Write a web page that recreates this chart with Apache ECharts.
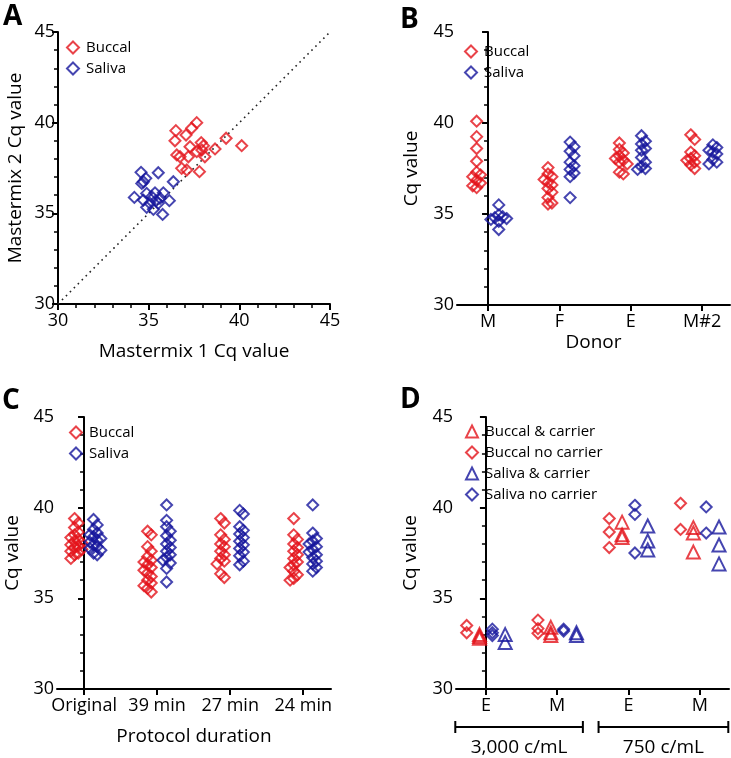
<!DOCTYPE html>
<html>
<head>
<meta charset="utf-8">
<script src="https://cdn.jsdelivr.net/npm/echarts@6/dist/echarts.min.js"></script>
<style>
html,body{margin:0;padding:0;background:#fff;}
#chart{width:731px;height:758px;}
</style>
</head>
<body>
<div id="chart"></div>
<script>
// ---------- DATA ----------
// Panel A: [Mastermix 1 Cq, Mastermix 2 Cq]
const aBuccal = [
  [37.65,40.0],[37.37,39.69],[36.5,39.56],[37.06,39.32],[36.45,39.0],[39.27,39.14],
  [40.13,38.73],[38.66,38.55],[38.02,38.73],[37.9,38.9],[37.28,38.67],[37.65,38.4],
  [38.1,38.12],[36.55,38.22],[36.73,38.12],[37.19,38.12],[36.82,37.48],[37.1,37.39],
  [37.8,37.3],[37.93,38.49]
];
const aSaliva = [
  [34.58,37.26],[35.53,37.24],[36.36,36.74],[34.71,36.74],[34.84,36.93],[34.62,36.65],
  [34.21,35.88],[34.89,36.1],[35.35,36.13],[35.81,36.13],[34.71,35.73],[35.17,35.92],
  [35.63,35.83],[36.14,35.7],[34.89,35.33],[35.26,35.22],[35.53,35.55],[35.77,34.94],
  [35.07,35.55],[35.4,35.7]
];
const identityLine = [[30,30],[45,45]];

// Panel B
const bCategories = ['M','F','E','M#2'];
const bBuccal = [
  [40.1,39.25,38.6,37.9,37.3,37.15,37.05,36.85,36.7,36.55,36.45],
  [37.55,37.2,37.05,36.9,36.75,36.6,36.4,36.2,35.9,35.6,35.55],
  [38.9,38.55,38.35,38.2,38.05,37.95,37.85,37.75,37.3,37.2],
  [39.35,39.1,38.4,38.2,38.05,37.95,37.85,37.7,37.5]
];
const bSaliva = [
  [35.5,34.95,34.85,34.8,34.75,34.7,34.6,34.15],
  [38.95,38.7,38.45,38.2,37.85,37.65,37.45,37.25,37.05,35.9],
  [39.3,39.0,38.85,38.6,38.5,38.1,37.85,37.6,37.5,37.45],
  [38.8,38.65,38.5,38.4,38.3,38.0,37.85,37.75]
];

// Panel C
const cCategories = ['Original','39 min','27 min','24 min'];
const cBuccal = [
  [39.4,39.15,38.9,38.65,38.5,38.35,38.25,38.15,38.05,37.95,37.9,37.8,37.7,37.6,37.5,37.4,37.2],
  [38.7,38.5,37.85,37.6,37.3,37.1,37.0,36.85,36.7,36.55,36.4,36.2,36.0,35.85,35.7,35.55,35.35],
  [39.4,39.15,38.5,38.25,38.0,37.85,37.6,37.4,37.2,37.05,36.9,36.35,36.15],
  [39.4,38.5,38.25,38.0,37.8,37.6,37.4,37.2,37.0,36.85,36.7,36.5,36.3,36.1,36.0]
];
const cSaliva = [
  [39.35,39.05,38.8,38.6,38.5,38.4,38.3,38.2,38.1,37.95,37.85,37.75,37.65,37.5,37.4],
  [40.15,39.3,38.95,38.7,38.45,38.2,38.0,37.8,37.6,37.4,37.25,37.1,36.95,36.65,35.9],
  [39.85,39.65,38.95,38.75,38.55,38.35,38.15,37.95,37.75,37.55,37.35,37.05,36.85],
  [40.15,38.6,38.3,38.15,38.0,37.85,37.7,37.55,37.4,37.25,37.05,36.9,36.7,36.5]
];

// Panel D
const dCategories = ['E','M','E','M'];
const dGroupLabels = ['3,000 c/mL','750 c/mL'];
const dBuccalCarrier = [[33.0,32.9,32.8],[33.4,33.1,32.95],[39.2,38.5,38.35],[38.9,38.6,37.55]];
const dBuccalNo      = [[33.5,33.1],[33.8,33.33,33.07],[39.4,38.66,37.8],[40.24,38.8]];
const dSalivaCarrier = [[33.0,32.56],[33.1,32.95],[38.99,38.16,37.67],[38.93,37.94,36.9]];
const dSalivaNo      = [[33.3,33.1,32.95],[33.3,33.2],[40.13,39.63,37.5],[40.04,38.6]];

// ---------- STYLE / LAYOUT ----------
const RED = '#e4141c';
const BLUE = '#16169c';
const FONT = '"Open Sans", sans-serif';
const BW = 2;

// simple beeswarm: spread points with similar values sideways
function swarm(groups, offset, dx, yThresh) {
  const out = [];
  groups.forEach((vals, ci) => {
    const center = ci + offset;
    const placed = [];
    const order = vals.slice().sort((a,b)=>b-a);
    order.forEach(v => {
      const ks = [0,1,-1,2,-2,3,-3];
      let chosen = 0;
      for (const k of ks) {
        const x = center + k*dx;
        const clash = placed.some(p => Math.abs(p[1]-v) < yThresh && Math.abs(p[0]-x) < dx*0.9);
        if (!clash) { chosen = k; break; }
      }
      const pt = [center + chosen*dx, v];
      placed.push(pt);
      out.push(pt);
    });
  });
  return out;
}

function hollow(color) {
  return { color: 'rgba(255,255,255,0)', borderColor: color, borderWidth: BW };
}

const grids = [
  {left:58, top:32, width:272, height:272},
  {left:457, top:32, width:273, height:273},
  {left:57, top:417, width:274, height:272},
  {left:456, top:417, width:273, height:272}
];

function yAx(gi, name, gap) {
  return {
    gridIndex: gi, type:'value', min:30, max:45, interval:5,
    name: name, nameLocation:'middle', nameGap: gap,
    nameTextStyle:{fontSize:19, color:'#000', fontFamily:FONT},
    axisLine:{show:true, lineStyle:{color:'#000', width:2}},
    axisTick:{show:true, length:6, lineStyle:{color:'#000', width:2}},
    minorTick:{show:true, splitNumber:5, length:4, lineStyle:{color:'#000', width:1.5}},
    splitLine:{show:false}, minorSplitLine:{show:false},
    axisLabel:{fontSize:18, color:'#000', fontFamily:FONT, margin:3}
  };
}
function xCat(gi, cats, min, max, name, gap) {
  const idx = cats.map((c,i)=>i);
  return {
    gridIndex: gi, type:'value', min:min, max:max,
    name: name, nameLocation:'middle', nameGap: gap,
    nameTextStyle:{fontSize:19, color:'#000', fontFamily:FONT},
    axisLine:{show:true, onZero:false, lineStyle:{color:'#000', width:2}},
    axisTick:{show:true, length:6, customValues: idx, lineStyle:{color:'#000', width:2}},
    axisLabel:{fontSize:18, color:'#000', fontFamily:FONT, margin:8, customValues: idx,
      formatter: v => cats[Math.round(v)]},
    splitLine:{show:false}
  };
}

const xAxes = [
  {
    gridIndex:0, type:'value', min:30, max:45, interval:5,
    name:'Mastermix 1 Cq value', nameLocation:'middle', nameGap:38,
    nameTextStyle:{fontSize:19, color:'#000', fontFamily:FONT},
    axisLine:{show:true, onZero:false, lineStyle:{color:'#000', width:2}},
    axisTick:{show:true, length:6, lineStyle:{color:'#000', width:2}},
    minorTick:{show:true, splitNumber:5, length:4, lineStyle:{color:'#000', width:1.5}},
    splitLine:{show:false},
    axisLabel:{fontSize:18, color:'#000', fontFamily:FONT, margin:8}
  },
  xCat(1, bCategories, -0.435, 3.39, 'Donor', 28),
  xCat(2, cCategories, -0.37, 3.38, 'Protocol duration', 38),
  xCat(3, dCategories, -0.42, 3.41, '', 30)
];
const yAxes = [
  yAx(0, 'Mastermix 2 Cq value', 33),
  yAx(1, 'Cq value', 36),
  yAx(2, 'Cq value', 35),
  yAx(3, 'Cq value', 36)
];

function sc(name, gi, data, color, symbol, size) {
  return {
    type:'scatter', name:name, xAxisIndex:gi, yAxisIndex:gi, data:data,
    symbol: symbol || 'diamond', symbolSize: size || 11,
    itemStyle: hollow(color), emphasis:{disabled:true}, silent:true, z:3
  };
}

const DX = 0.055, YT = 0.32;
const series = [
  {
    type:'line', xAxisIndex:0, yAxisIndex:0, data:identityLine, symbol:'none', silent:true,
    lineStyle:{color:'#222', width:1.6, type:[1.6,4]}, z:1
  },
  sc('Buccal', 0, aBuccal, RED),
  sc('Saliva', 0, aSaliva, BLUE),
  sc('Buccal', 1, swarm(bBuccal, -0.16, DX, YT), RED),
  sc('Saliva', 1, swarm(bSaliva, 0.15, DX, YT), BLUE),
  sc('Buccal', 2, swarm(cBuccal, -0.13, 0.05, YT), RED),
  sc('Saliva', 2, swarm(cSaliva, 0.13, 0.05, YT), BLUE),
  sc('Buccal & carrier', 3, swarm(dBuccalCarrier, -0.09, 0.02, 0.05), RED, 'triangle', 13),
  sc('Buccal no carrier', 3, swarm(dBuccalNo, -0.27, 0.02, 0.05), RED, 'diamond', 11),
  sc('Saliva & carrier', 3, swarm(dSalivaCarrier, 0.27, 0.02, 0.05), BLUE, 'triangle', 13),
  sc('Saliva no carrier', 3, swarm(dSalivaNo, 0.09, 0.02, 0.05), BLUE, 'diamond', 11)
];

function leg(names, left, top) {
  return {
    data: names, left:left, top:top, orient:'vertical', itemGap:6,
    itemWidth:12, itemHeight:12, itemStyle:{borderWidth:BW},
    textStyle:{fontSize:15, color:'#000', fontFamily:FONT, padding:[0,0,0,2]},
    selectedMode:false, padding:0
  };
}

const legends = [
  leg(['Buccal','Saliva'], 66, 40),
  leg(['Buccal','Saliva'], 464, 44),
  leg(['Buccal','Saliva'], 69, 425),
  leg(['Buccal & carrier','Buccal no carrier','Saliva & carrier','Saliva no carrier'], 465, 424)
];

const letters = [['A',3,3],['B',400,6],['C',2,387],['D',400,386]];
function letterGraphics() {
  return letters.map(l => ({
    type:'text', left:l[1], top:l[2],
    style:{text:l[0], fontSize:28, fontWeight:'bold', fill:'#000', fontFamily:FONT}
  }));
}

const chart = echarts.init(document.getElementById('chart'), null, {renderer:'canvas'});
chart.setOption({
  backgroundColor:'#fff',
  animation:false,
  grid: grids,
  xAxis: xAxes,
  yAxis: yAxes,
  legend: legends,
  series: series,
  graphic: letterGraphics()
});

// group brackets under panel D
const spans = [[-0.43,1.36],[1.58,3.4]];
const bracketY = 727;
const g = [];
spans.forEach((s, i) => {
  const x1 = chart.convertToPixel({xAxisIndex:3}, s[0]);
  const x2 = chart.convertToPixel({xAxisIndex:3}, s[1]);
  g.push({type:'line', shape:{x1:x1,y1:bracketY,x2:x2,y2:bracketY}, style:{stroke:'#000', lineWidth:2}});
  g.push({type:'line', shape:{x1:x1,y1:bracketY-6,x2:x1,y2:bracketY+6}, style:{stroke:'#000', lineWidth:2}});
  g.push({type:'line', shape:{x1:x2,y1:bracketY-6,x2:x2,y2:bracketY+6}, style:{stroke:'#000', lineWidth:2}});
  g.push({type:'text', x:(x1+x2)/2, y:bracketY+21,
    style:{text:dGroupLabels[i], fontSize:19, fill:'#000', fontFamily:FONT, align:'center', verticalAlign:'middle'}});
});
chart.setOption({ graphic: letterGraphics().concat(g) });
</script>
</body>
</html>
